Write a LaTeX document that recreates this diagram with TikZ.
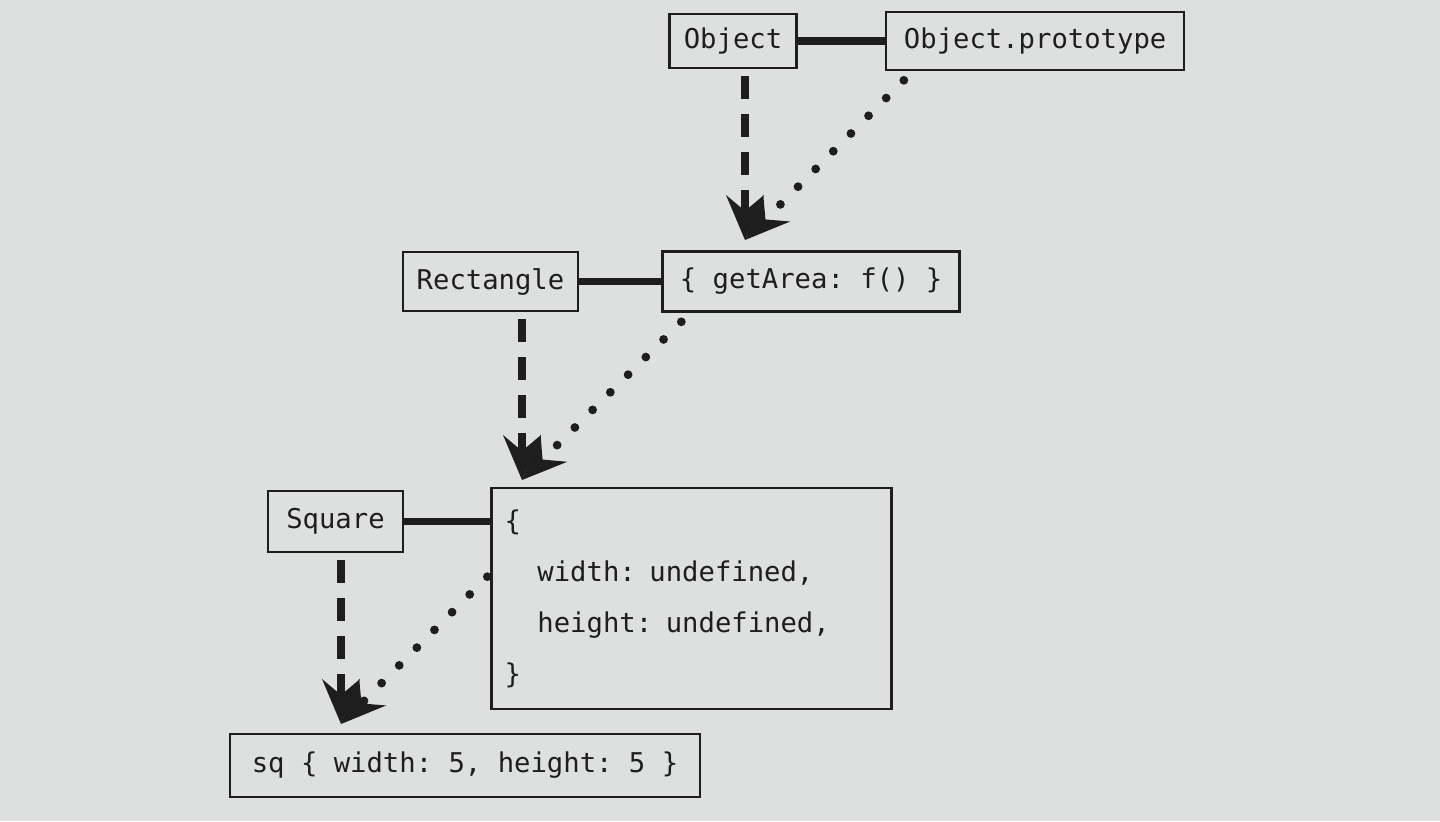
\documentclass[tikz,border=0pt]{standalone}
\usepackage{fontspec}
\setmonofont{DejaVu Sans Mono}
\usepackage{xcolor}
\usepackage{tikz}
\usetikzlibrary{positioning}
\usetikzlibrary{arrows.meta}
\definecolor{paper}{RGB}{221,224,222}
\definecolor{ink}{RGB}{30,30,30}

\begin{document}
\begin{tikzpicture}[>={Stealth[length=0.9cm,width=0.76cm,inset=0.32cm,line width=0pt]},
                    box/.style={draw=ink,line width=1.5pt,inner sep=0pt,text=ink,
                                font=\ttfamily\fontsize{15.5}{29}\selectfont},
                    link/.style={draw=ink,line width=4.5pt},
                    ctor/.style={->,draw=ink,line width=5pt,dash pattern=on 0.46cm off 0.3cm},
                    proto/.style={->,draw=ink,line width=5pt,line cap=round,dash pattern=on 0pt off 0.5cm}]
\fill[paper] (0,0) rectangle (28.8,-16.42);
\node[box,minimum width=2.54cm,minimum height=1.08cm] (obj) at (14.66,-0.82) {Object};
\node[box,minimum width=5.96cm,minimum height=1.16cm,right = 1.74cm of obj] (objproto) {Object.prototype};
\node[box,minimum width=3.5cm,minimum height=1.18cm] (rect) at (9.81,-5.63) {Rectangle};
\node[box,minimum width=5.94cm,minimum height=1.2cm,right = 1.64cm of rect] (rectproto) {\{ getArea: f() \}};
\node[box,minimum width=2.7cm,minimum height=1.22cm] (square) at (6.71,-10.43) {Square};
\node[box,minimum width=8cm,minimum height=4.42cm,text width=7.48cm,align=left,
      right = 1.72cm of square.north east,anchor=north west,yshift=0.06cm] (squareproto)
     {\{\\ \phantom{xx}width: undefined,\\ \phantom{xx}height: undefined,\\ \}};
\node[box,minimum width=9.4cm,minimum height=1.26cm] (sq) at (9.3,-15.31) {sq \{ width: 5, height: 5 \}};
\coordinate (tip1) at (14.9,-4.8);
\coordinate (tip2) at (10.44,-9.6);
\coordinate (tip3) at (6.82,-14.48);
\draw[link] (obj.east) -- (obj.east -| objproto.west);
\draw[link] (rect.east) -- (rect.east -| rectproto.west);
\draw[link] (square.east) -- (square.east -| squareproto.west);
\draw[ctor,shorten <=0.14cm] (tip1 |- obj.south) -- (tip1);
\draw[ctor,shorten <=0.14cm] (tip2 |- rect.south) -- (tip2);
\draw[ctor,shorten <=0.14cm] (tip3 |- square.south) -- (tip3);
\draw[proto] ([shift={(0.38,-0.18)}]objproto.south west) -- (tip1);
\draw[proto] ([shift={(0.4,-0.18)}]rectproto.south west) -- (tip2);
\draw[proto] ([shift={(-0.06,-1.8)}]squareproto.north west) -- (tip3);
\end{tikzpicture}
\end{document}
